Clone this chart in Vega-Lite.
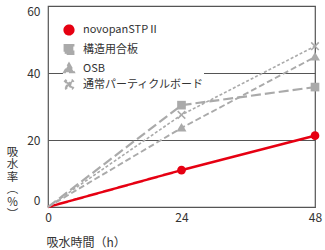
{
  "$schema": "https://vega.github.io/schema/vega-lite/v6.json",
  "autosize": "none",
  "width": 267,
  "height": 201,
  "padding": {"left": 48, "top": 6, "right": 10, "bottom": 43},
  "background": "white",
  "config": {
    "font": "Noto Sans CJK JP",
    "view": {"stroke": "#555555", "strokeWidth": 1.2},
    "axis": {"labelFont": "Noto Sans CJK JP", "titleFont": "Noto Sans CJK JP"},
    "legend": {
      "orient": "none", "legendX": 15, "legendY": 18, "title": null,
      "fillColor": "white", "padding": 0, "offset": 0,
      "labelFont": "Noto Sans CJK JP", "labelFontSize": 11, "labelColor": "#333333",
      "symbolSize": 75, "symbolOpacity": 1, "rowPadding": 0, "labelOffset": 8
    }
  },
  "data": {
    "values": [
      {"series": "novopanSTPⅡ", "t": 0, "v": 0},
      {"series": "novopanSTPⅡ", "t": 24, "v": 11},
      {"series": "novopanSTPⅡ", "t": 48, "v": 21.3},
      {"series": "構造用合板", "t": 0, "v": 0},
      {"series": "構造用合板", "t": 24, "v": 30.4},
      {"series": "構造用合板", "t": 48, "v": 35.8},
      {"series": "OSB", "t": 0, "v": 0},
      {"series": "OSB", "t": 24, "v": 23.6},
      {"series": "OSB", "t": 48, "v": 44.8},
      {"series": "通常パーティクルボード", "t": 0, "v": 0},
      {"series": "通常パーティクルボード", "t": 24, "v": 27.5},
      {"series": "通常パーティクルボード", "t": 48, "v": 48}
    ]
  },
  "encoding": {
    "x": {
      "field": "t", "type": "quantitative",
      "scale": {"domain": [0, 48], "nice": false},
      "axis": {
        "values": [0, 24, 48], "grid": false, "ticks": false, "domain": false,
        "labelFontSize": 12, "labelColor": "#333333", "labelPadding": 5, "labelFlush": false,
        "title": "吸水時間（h）", "titleFontSize": 12, "titleFontWeight": "normal", "titleColor": "#333333",
        "titleAnchor": "start", "titleAlign": "left", "titleBaseline": "middle", "titleX": -2, "titleY": 35
      }
    },
    "y": {
      "field": "v", "type": "quantitative",
      "scale": {"domain": [0, 60], "nice": false},
      "axis": {
        "values": [0, 20, 40, 60], "grid": true, "gridColor": "#555555", "gridWidth": 1.2, "gridOpacity": 1,
        "ticks": false, "domain": false,
        "labelFontSize": 12, "labelColor": "#333333", "labelPadding": 8, "labelFlush": true,
        "title": ["吸", "水", "率", "︵", "%", "︶"], "titleFontSize": 11.5, "titleFontWeight": "normal", "titleColor": "#333333",
        "titleAngle": 0, "titleAlign": "center", "titleBaseline": "middle", "titleLineHeight": 12.5,
        "titleX": -36, "titleY": 146
      }
    }
  },
  "layer": [
    {
      "mark": {"type": "line"},
      "encoding": {
        "color": {
          "field": "series", "type": "nominal",
          "scale": {"domain": ["novopanSTPⅡ", "構造用合板", "OSB", "通常パーティクルボード"], "range": ["#e60012", "#aaaaaa", "#aaaaaa", "#aaaaaa"]}
        },
        "strokeDash": {
          "field": "series", "type": "nominal",
          "scale": {"domain": ["novopanSTPⅡ", "構造用合板", "OSB", "通常パーティクルボード"], "range": [[1, 0], [10, 4], [6, 3], [3, 2]]}
        },
        "strokeWidth": {
          "field": "series", "type": "nominal",
          "scale": {"domain": ["novopanSTPⅡ", "構造用合板", "OSB", "通常パーティクルボード"], "range": [2.5, 1.6, 1.6, 1.6]}
        }
      }
    },
    {
      "transform": [{"filter": "datum.t > 0"}],
      "mark": {"type": "point", "filled": true, "opacity": 1, "size": 75},
      "encoding": {
        "color": {
          "field": "series", "type": "nominal",
          "scale": {"domain": ["novopanSTPⅡ", "構造用合板", "OSB", "通常パーティクルボード"], "range": ["#e60012", "#aaaaaa", "#aaaaaa", "#aaaaaa"]}
        },
        "shape": {
          "field": "series", "type": "nominal",
          "scale": {"domain": ["novopanSTPⅡ", "構造用合板", "OSB", "通常パーティクルボード"], "range": ["circle", "square", "M0,-1.15L1.15,0.85L-1.15,0.85Z", "M-1,-0.75L-0.75,-1L0,-0.25L0.75,-1L1,-0.75L0.25,0L1,0.75L0.75,1L0,0.25L-0.75,1L-1,0.75L-0.25,0Z"]},
          "legend": {
            "encode": {
              "symbols": {"update": {
                "fill": {"signal": "datum.label === 'novopanSTPⅡ' ? '#e60012' : '#aaaaaa'"},
                "stroke": {"value": "transparent"},
                "strokeWidth": {"value": 0},
                "strokeDash": {"value": [1, 0]}
              }},
              "labels": {
                "update": {
                  "fill": {"signal": "datum.label === 'novopanSTPⅡ' ? '#e60012' : '#333333'"},
                  "stroke": {"signal": "datum.label === 'novopanSTPⅡ' ? '#e60012' : 'transparent'"},
                  "strokeWidth": {"signal": "datum.label === 'novopanSTPⅡ' ? 0.8 : 0"},
                  "font": {"signal": "datum.label === 'novopanSTPⅡ' ? 'Liberation Sans' : 'Noto Sans CJK JP'"},
                  "fontWeight": {"signal": "datum.label === 'novopanSTPⅡ' ? 'bold' : 'normal'"}
                }
              }
            }
          }
        }
      }
    }
  ]
}
